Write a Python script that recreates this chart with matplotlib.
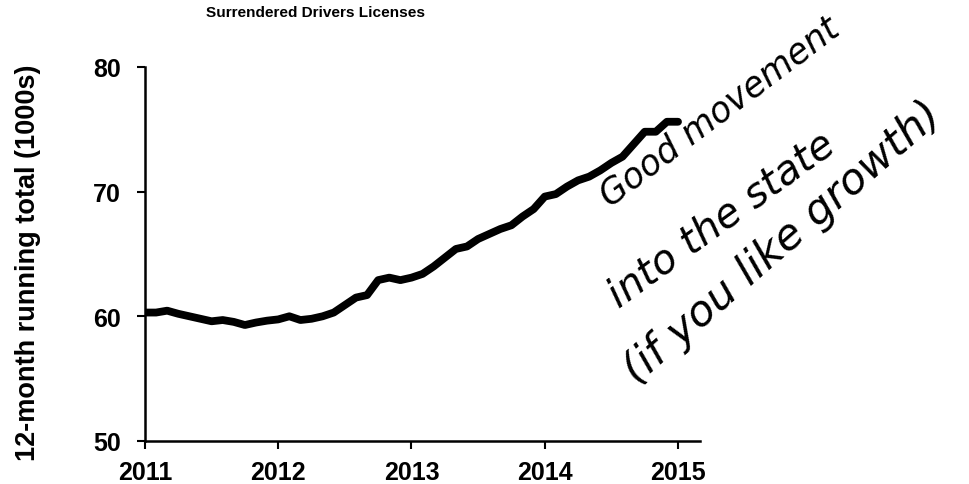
import matplotlib
matplotlib.use("Agg")
import matplotlib.pyplot as plt
import numpy as np

# Monthly 12-month running totals (1000s), Jan 2011 - Jan 2015
months = np.arange(49)  # months since Jan 2011
values = [
    60.3, 60.3, 60.45, 60.2, 60.0, 59.8, 59.6, 59.7, 59.55, 59.3, 59.5, 59.65,
    59.75, 60.0, 59.7, 59.8, 60.0, 60.3, 60.9, 61.5, 61.7, 62.9, 63.1, 62.9,
    63.1, 63.4, 64.0, 64.7, 65.4, 65.6, 66.2, 66.6, 67.0, 67.3, 68.0, 68.6,
    69.6, 69.8, 70.4, 70.9, 71.2, 71.7, 72.3, 72.8, 73.8, 74.8, 74.8, 75.6,
    75.6,
]
x_years = 2011 + months / 12.0
year_ticks = [2011, 2012, 2013, 2014, 2015]
y_ticks = [50, 60, 70, 80]
title = "Surrendered Drivers Licenses"
ylabel = "12-month running total (1000s)"
notes = ["Good movement", "into the state", "(if you like growth)"]

plt.rcParams['font.family'] = ['Liberation Sans', 'DejaVu Sans']

fig = plt.figure(figsize=(9.69, 4.85), dpi=100)
ax = fig.add_axes([0.1496, 0.0887, 0.5728, 0.7713])
ax.plot(x_years, values, color='black', linewidth=5.6, solid_joinstyle='round',
        solid_capstyle='round')
ax.set_xlim(2011, 2015.165)
ax.set_ylim(50, 80)
ax.set_xticks(year_ticks)
ax.set_yticks(y_ticks)
ax.set_xticklabels([str(y) for y in year_ticks], fontsize=18, fontweight='bold')
ax.set_yticklabels([str(v) for v in y_ticks], fontsize=18, fontweight='bold')
ax.tick_params(axis='both', direction='out', length=5.5, width=1.5, colors='black')
ax.tick_params(axis='x', pad=8)
ax.tick_params(axis='y', pad=12)
for s in ['top', 'right']:
    ax.spines[s].set_visible(False)
for s in ['left', 'bottom']:
    ax.spines[s].set_linewidth(1.8)
ax.set_ylabel(ylabel, fontsize=19.5, fontweight='bold')
ax.yaxis.set_label_coords(-0.187, 0.48)

fig.text(0.326, 0.988, title, ha='center', va='top', fontsize=11.1, fontweight='bold')

# Handwritten-style annotation
note_pos = [(720, 112), (721, 220), (783, 243)]
note_rot = [37, 36, 41]
note_size = [25, 29, 31]
for t, (px, py), r, fs in zip(notes, note_pos, note_rot, note_size):
    fig.text(px / 969, 1 - py / 485, t, ha='center', va='center', rotation=r,
             rotation_mode='anchor', fontsize=fs, fontstyle='italic',
             family=['DejaVu Sans'], fontweight='light', color='black')

fig.savefig("out.png", dpi=100)
